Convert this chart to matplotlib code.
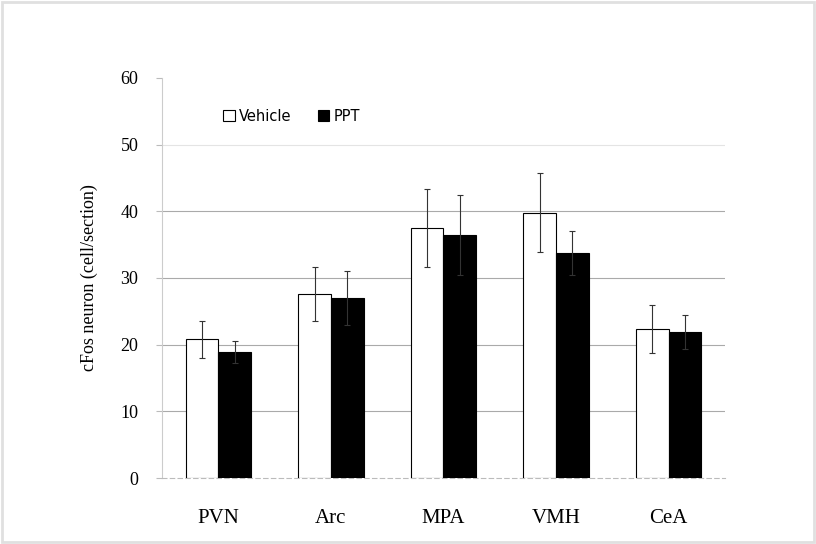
import matplotlib
matplotlib.use("Agg")
import matplotlib.pyplot as plt
import numpy as np

regions = ["PVN", "Arc", "MPA", "VMH", "CeA"]
vehicle = [20.8, 27.6, 37.5, 39.8, 22.4]
vehicle_err = [2.8, 4.1, 5.8, 5.9, 3.6]
ppt = [18.9, 27.0, 36.5, 33.7, 21.9]
ppt_err = [1.7, 4.1, 6.0, 3.3, 2.5]

fig = plt.figure(figsize=(8.16, 5.44), dpi=100)
ax = fig.add_axes([0.1985, 0.121, 0.69, 0.736])

x = np.arange(len(regions))
w = 0.29
ax.bar(x - w / 2, vehicle, w, color="white", edgecolor="black", linewidth=0.8,
       yerr=vehicle_err, error_kw=dict(ecolor="#333333", elinewidth=0.8, capsize=2, capthick=0.8),
       label="Vehicle", zorder=3)
ax.bar(x + w / 2, ppt, w, color="black", edgecolor="black", linewidth=0.8,
       yerr=ppt_err, error_kw=dict(ecolor="#333333", elinewidth=0.8, capsize=2, capthick=0.8),
       label="PPT", zorder=3)

ax.set_xlim(-0.5, 4.5)
ax.set_ylim(0, 60)
ax.set_yticks(range(0, 61, 10))
ax.set_yticklabels([str(v) for v in range(0, 61, 10)], family="Liberation Serif", fontsize=13)
ax.set_xticks(x)
ax.set_xticklabels(regions, family="Liberation Serif", fontsize=15)
ax.tick_params(axis="x", length=0, pad=22)
ax.tick_params(axis="y", length=4, color="#bbbbbb", pad=13)

# grid lines by hand: 10-40 clear, 50 faint, none at 60
for g in [10, 20, 30, 40]:
    ax.axhline(g, color="#aaaaaa", linewidth=0.8, zorder=1)
ax.axhline(50, color="#e4e4e4", linewidth=0.8, zorder=1)

for s in ["top", "right"]:
    ax.spines[s].set_visible(False)
ax.spines["left"].set_color("#cccccc")
ax.spines["bottom"].set_color("#bbbbbb")
ax.spines["bottom"].set_linestyle((0, (4, 3)))

ax.set_ylabel("cFos neuron (cell/section)", family="Liberation Serif", fontsize=13, labelpad=16)

ax.legend(loc="upper left", bbox_to_anchor=(0.085, 0.955), ncol=2, frameon=False,
          prop={"family": "DejaVu Sans", "size": 10.5}, handlelength=0.8, handleheight=0.8,
          handletextpad=0.3, columnspacing=1.8)

fig.patches.append(plt.Rectangle((0.003, 0.003), 0.994, 0.994, transform=fig.transFigure,
                                 fill=False, edgecolor="#e0e0e0", linewidth=2))

fig.savefig("out.png", dpi=100)
